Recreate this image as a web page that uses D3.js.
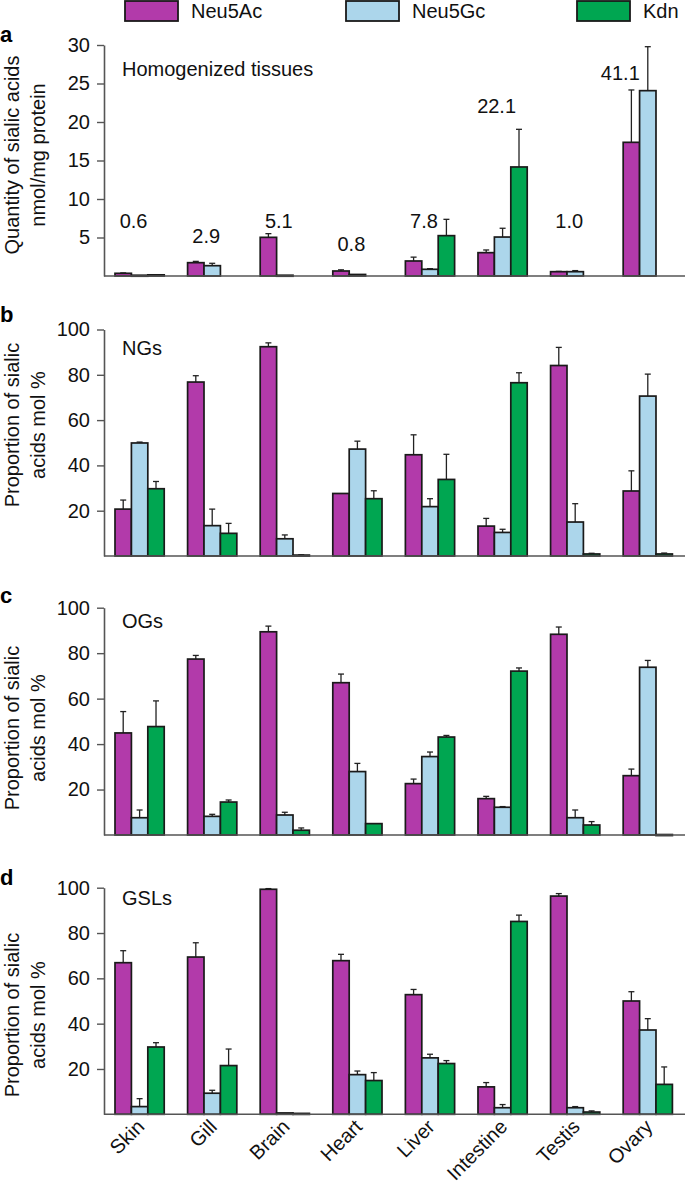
<!DOCTYPE html>
<html>
<head>
<meta charset="utf-8">
<script src="https://cdn.jsdelivr.net/npm/d3@7"></script>
<style>
  body { margin: 0; background: #fff; }
  svg { display: block; font-family: "Liberation Sans", Arial, Helvetica, sans-serif; }
</style>
</head>
<body>
<svg id="chart" width="685" height="1185"></svg>
<script>
// tissues and sialic acid types
const tissues = ["Skin", "Gill", "Brain", "Heart", "Liver", "Intestine", "Testis", "Ovary"];
const acids = ["Neu5Ac", "Neu5Gc", "Kdn"];
const colors = ["#b23aaa", "#acd6eb", "#00a651"];

// a - homogenized tissues, nmol/mg protein (mean, sd)
const acA = [0.35, 1.73, 5.02, 0.65, 1.95, 3.03, 0.56, 17.36];
const acA_sd = [0.05, 0.17, 0.48, 0.15, 0.5, 0.35, 0.04, 6.8];
const gcA = [0.1, 1.34, 0.1, 0.2, 0.87, 5.06, 0.56, 24.07];
const gcA_sd = [0, 0.31, 0, 0, 0.08, 1.14, 0.14, 5.71];
const kdnA = [0.15, 0, 0, 0, 5.24, 14.16, 0, 0];
const kdnA_sd = [0, 0, 0, 0, 2.12, 4.89, 0, 0];
const totalsA = ["0.6", "2.9", "5.1", "0.8", "7.8", "22.1", "1.0", "41.1"];
const totalsA_at = [6.2, 4.3, 6.2, 3.2, 6.2, 21.2, 6.2, 25.5]; // label height, data units

// b - NGs, mol %
const acB = [20.7, 76.8, 92.4, 27.6, 44.7, 13.2, 84.1, 28.7];
const acB_sd = [4.0, 2.8, 1.7, 0, 8.8, 3.4, 8.0, 8.9];
const gcB = [49.9, 13.4, 7.6, 47.2, 21.8, 10.4, 15.0, 70.6];
const gcB_sd = [0.4, 7.3, 1.7, 3.5, 3.5, 1.4, 8.1, 9.7];
const kdnB = [29.7, 10.0, 0.4, 25.3, 33.8, 76.5, 0.9, 0.9];
const kdnB_sd = [3.2, 4.4, 0.1, 3.5, 11.1, 4.4, 0.3, 0.4];

// c - OGs, mol %
const acC = [44.9, 77.4, 89.4, 67.0, 22.6, 16.0, 88.3, 26.1];
const acC_sd = [9.4, 1.6, 2.5, 3.8, 2.0, 1.0, 3.2, 2.9];
const gcC = [7.6, 8.2, 8.8, 27.9, 34.5, 12.2, 7.6, 73.8];
const gcC_sd = [3.4, 0.9, 1.2, 3.6, 2.0, 0.3, 3.4, 3.0];
const kdnC = [47.7, 14.5, 2.1, 5.0, 43.1, 72.1, 4.4, 0.2];
const kdnC_sd = [11.3, 0.9, 1.0, 0, 0.7, 1.4, 1.5, 0];

// d - GSLs, mol %
const acD = [66.9, 69.4, 99.3, 67.8, 52.8, 12.1, 96.3, 50.0];
const acD_sd = [5.3, 6.3, 0.3, 2.8, 2.3, 1.9, 1.1, 4.1];
const gcD = [3.4, 9.3, 0.6, 17.5, 24.9, 2.9, 2.9, 37.2];
const gcD_sd = [3.5, 1.3, 0, 1.6, 1.6, 1.4, 0.5, 5.0];
const kdnD = [29.7, 21.5, 0.4, 14.9, 22.4, 85.1, 1.0, 13.2];
const kdnD_sd = [1.9, 7.3, 0, 3.5, 1.3, 2.8, 0.5, 7.7];

const ticksA = [5, 10, 15, 20, 25, 30];
const ticksPct = [20, 40, 60, 80, 100];

const svg = d3.select("#chart");
const axisX = 104;

// shared x scale for tissue groups
const x0 = d3.scaleBand().domain(tissues).range([axisX, 683.4]).paddingInner(0.322).paddingOuter(0.1515);
const x1 = d3.scaleBand().domain(acids).range([0, x0.bandwidth()]);

const panels = [
  { letter: "a", letterY: 42, title: "Homogenized tissues", titleY: 76, y0: 276, y1: 45, max: 30, ticks: ticksA,
    ylab: ["Quantity of sialic acids", "nmol/mg protein"], ylabY: 155,
    series: [[acA, acA_sd], [gcA, gcA_sd], [kdnA, kdnA_sd]] },
  { letter: "b", letterY: 322, title: "NGs", titleY: 355, y0: 556, y1: 329.5, max: 100, ticks: ticksPct,
    ylab: ["Proportion of sialic", "acids mol %"], ylabY: 425,
    series: [[acB, acB_sd], [gcB, gcB_sd], [kdnB, kdnB_sd]] },
  { letter: "c", letterY: 603, title: "OGs", titleY: 628, y0: 835, y1: 607.7, max: 100, ticks: ticksPct,
    ylab: ["Proportion of sialic", "acids mol %"], ylabY: 728,
    series: [[acC, acC_sd], [gcC, gcC_sd], [kdnC, kdnC_sd]] },
  { letter: "d", letterY: 885, title: "GSLs", titleY: 905, y0: 1114.3, y1: 887.7, max: 100, ticks: ticksPct,
    ylab: ["Proportion of sialic", "acids mol %"], ylabY: 1015,
    series: [[acD, acD_sd], [gcD, gcD_sd], [kdnD, kdnD_sd]] }
];

panels.forEach((p, pi) => {
  const y = d3.scaleLinear().domain([0, p.max]).range([p.y0, p.y1]);
  const g = svg.append("g");

  // bars
  p.series.forEach(([vals, sds], si) => {
    const rows = tissues.map((t, i) => ({ t, v: vals[i], sd: sds[i] }));
    const sg = g.append("g");
    // error bars first (upper half only)
    rows.filter(d => d.sd > 0).forEach(d => {
      const cx = x0(d.t) + x1(acids[si]) + x1.bandwidth() / 2;
      sg.append("line").attr("x1", cx).attr("x2", cx)
        .attr("y1", y(d.v)).attr("y2", y(d.v + d.sd))
        .attr("stroke", "#222").attr("stroke-width", 1.3);
      sg.append("line").attr("x1", cx - 3).attr("x2", cx + 3)
        .attr("y1", y(d.v + d.sd)).attr("y2", y(d.v + d.sd))
        .attr("stroke", "#222").attr("stroke-width", 1.3);
    });
    sg.selectAll("rect").data(rows.filter(d => d.v > 0)).enter().append("rect")
      .attr("x", d => x0(d.t) + x1(acids[si]))
      .attr("y", d => y(d.v))
      .attr("width", x1.bandwidth())
      .attr("height", d => Math.max(1, p.y0 - y(d.v)))
      .attr("fill", colors[si])
      .attr("stroke", "#1a1a1a")
      .attr("stroke-width", 1.7);
  });

  // y axis
  const ax = g.append("g").attr("transform", `translate(${axisX},0)`)
    .call(d3.axisLeft(y).tickValues(p.ticks).tickSize(7).tickSizeOuter(0).tickPadding(7));
  ax.select(".domain").attr("stroke", "#555").attr("stroke-width", 1.6);
  ax.selectAll(".tick line").attr("stroke", "#555").attr("stroke-width", 1.4);
  ax.selectAll(".tick text").attr("font-size", 20).attr("fill", "#111")
    .attr("font-family", "Liberation Sans, Arial, sans-serif");

  // x baseline
  g.append("line").attr("x1", axisX).attr("x2", 685).attr("y1", p.y0).attr("y2", p.y0)
    .attr("stroke", "#555").attr("stroke-width", 1.6);

  // panel letter
  g.append("text").attr("x", 0).attr("y", p.letterY).attr("font-size", 22)
    .attr("font-weight", "bold").attr("fill", "#000").text(p.letter);

  // subtitle
  g.append("text").attr("x", 122).attr("y", p.titleY).attr("font-size", 20)
    .attr("fill", "#111").text(p.title);

  // y label (two rotated lines)
  p.ylab.forEach((line, li) => {
    g.append("text")
      .attr("transform", `translate(${18.5 + li * 26},${p.ylabY}) rotate(-90)`)
      .attr("text-anchor", "middle").attr("font-size", 20).attr("fill", "#111")
      .text(line);
  });
});

// totals above groups in panel a; kept clear of the Neu5Gc error line
const yA = d3.scaleLinear().domain([0, 30]).range([276, 45]);
const totals = svg.append("g").selectAll("text").data(tissues).enter().append("text")
  .attr("y", (d, i) => yA(totalsA_at[i]))
  .attr("text-anchor", "middle").attr("font-size", 20).attr("fill", "#111")
  .text((d, i) => totalsA[i]);
totals.attr("x", function (d, i) {
  const w = this.getComputedTextLength();
  let cx = x0(d) + x0.bandwidth() / 2 - 6;
  const errTop = yA(gcA[i] + gcA_sd[i]);
  const gcX = x0(d) + x1("Neu5Gc") + x1.bandwidth() / 2;
  if (errTop < yA(totalsA_at[i]) && cx + w / 2 > gcX - 7) cx = gcX - 8 - w / 2;
  return cx;
});

// tissue labels under panel d
svg.append("g").selectAll("text").data(tissues).enter().append("text")
  .attr("transform", d => `translate(${x0(d) + x0.bandwidth() / 2 + 6},1128) rotate(-45)`)
  .attr("text-anchor", "end").attr("font-size", 20).attr("fill", "#111")
  .text(d => d);

// legend
const legendX = [125, 346, 577];
const leg = svg.append("g").selectAll("g").data(acids).enter().append("g")
  .attr("transform", (d, i) => `translate(${legendX[i]},1)`);
leg.append("rect").attr("width", 53).attr("height", 20)
  .attr("fill", (d, i) => colors[i]).attr("stroke", "#1a1a1a").attr("stroke-width", 1.8);
leg.append("text").attr("x", 66).attr("y", 17).attr("font-size", 20).attr("fill", "#111")
  .text(d => d);
</script>
</body>
</html>
